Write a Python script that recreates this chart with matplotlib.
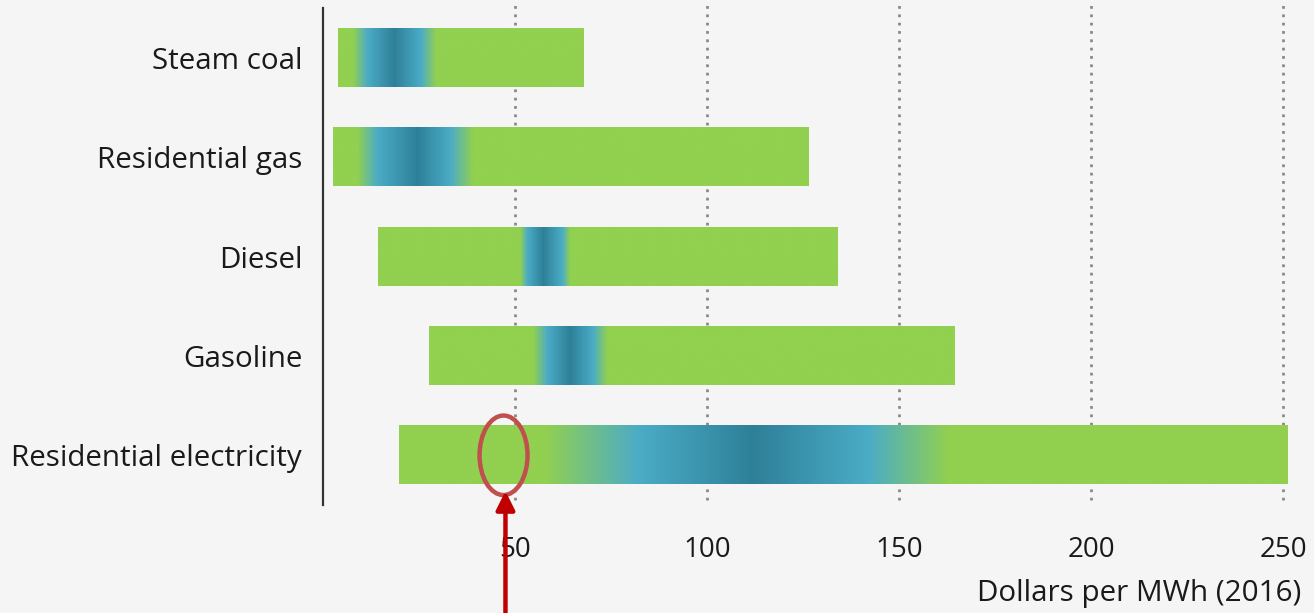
import numpy as np
import matplotlib
matplotlib.use("Agg")
import matplotlib.pyplot as plt
from matplotlib.patches import Ellipse

plt.rcParams['font.family'] = ['Open Sans', 'DejaVu Sans']

categories = ["Steam coal", "Residential gas", "Diesel", "Gasoline", "Residential electricity"]
low = [3.9, 2.6, 14.3, 27.6, 19.8]
high = [67.7, 126.3, 133.9, 164.3, 251.0]
# gradient profile: green end, light-blue start, dark peak, light-blue end, green start
green_end = [7.8, 8.9, 51.3, 54.7, 57.8]
blue_start = [11.5, 14.1, 53.1, 58.3, 82.0]
peak = [18.5, 24.5, 57.3, 64.3, 112.0]
blue_end = [25.5, 33.1, 62.2, 70.3, 142.0]
green_start = [29.4, 39.1, 64.3, 74.0, 163.0]
xticks = [50, 100, 150, 200, 250]
highlight_x = 47.0

GREEN = np.array([146, 208, 80]) / 255
LBLUE = np.array([75, 172, 198]) / 255
DBLUE = np.array([46, 128, 152]) / 255
BG = '#f4f5f4'

fig = plt.figure(figsize=(13.14, 6.13), dpi=100, facecolor=BG)
ax = fig.add_axes([323 / 1314, 1 - 505 / 613, (1291 - 323) / 1314, (505 - 8) / 613])
ax.set_facecolor(BG)

for xv in xticks:
    ax.plot([xv, xv], [4.45, -0.53], color='#8a8a8a', lw=2.0,
            linestyle=(0, (1, 2)), zorder=1, clip_on=False)

bh = 0.585
for i, cat in enumerate(categories):
    xs = np.linspace(low[i], high[i], 1200)
    stops_x = [low[i], green_end[i], blue_start[i], peak[i], blue_end[i], green_start[i], high[i]]
    stops_c = [GREEN, GREEN, LBLUE, DBLUE, LBLUE, GREEN, GREEN]
    cols = np.zeros((len(xs), 3))
    for k in range(3):
        cols[:, k] = np.interp(xs, stops_x, [c[k] for c in stops_c])
    img = cols[np.newaxis, :, :]
    ax.imshow(img, extent=[low[i], high[i], i + bh / 2, i - bh / 2],
              aspect='auto', interpolation='bilinear', zorder=2)

ax.set_yticks(range(len(categories)))
ax.set_yticklabels(categories, fontsize=21.3, color='#1a1a1a')
ax.set_xticks(xticks)
ax.set_xticklabels([str(v) for v in xticks], fontsize=20, color='#1a1a1a')
ax.tick_params(axis='both', length=0)
ax.tick_params(axis='y', pad=15)
ax.tick_params(axis='x', pad=22)
for s in ['top', 'right', 'bottom']:
    ax.spines[s].set_visible(False)
ax.spines['left'].set_color('#333333')
ax.spines['left'].set_linewidth(1.6)

ax.set_xlim(0, 252)
ax.set_ylim(4.5, -0.5)

# highlight ellipse and arrow
ell = Ellipse((highlight_x, 4.0), width=12.5, height=0.80, fill=False,
              edgecolor='#c0504d', lw=3.2, zorder=5, clip_on=False)
ax.add_patch(ell)
ax.annotate('', xy=(highlight_x + 0.5, 4.36), xytext=(highlight_x + 0.5, 5.7),
            xycoords='data', textcoords='data',
            arrowprops=dict(arrowstyle='-|>', color='#c00000', lw=3.2,
                            mutation_scale=28, shrinkA=0, shrinkB=0),
            annotation_clip=False, zorder=6)

fig.text(1301 / 1314, 1 - 593 / 613, 'Dollars per MWh (2016)', ha='right', va='center',
         fontsize=21.3, color='#1a1a1a')

fig.savefig('out.png', dpi=100, facecolor=BG)
